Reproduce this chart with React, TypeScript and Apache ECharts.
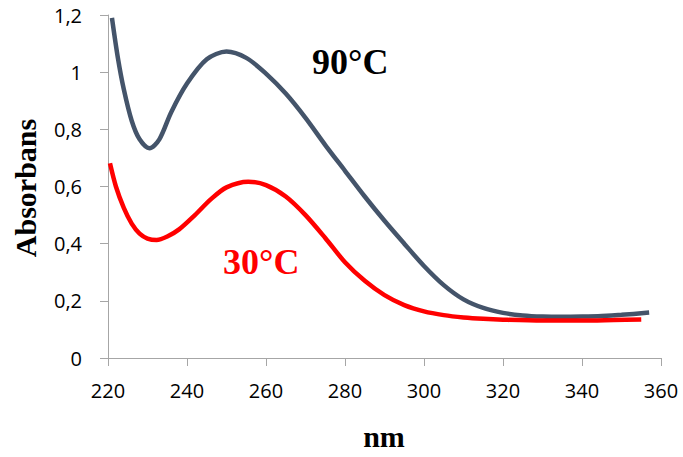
import React, { useEffect, useRef } from "react";
import * as echarts from "echarts";

const nm90 = [221, 222.5, 224, 226, 228, 230.5, 233, 236, 240, 245, 250, 255, 260, 265, 270, 275, 280, 285, 290, 295, 300, 305, 310, 315, 320, 325, 330, 335, 340, 345, 350, 357];
const abs90 = [1.19, 1.05, 0.94, 0.83, 0.765, 0.734, 0.765, 0.86, 0.96, 1.045, 1.072, 1.05, 0.995, 0.925, 0.84, 0.745, 0.655, 0.565, 0.48, 0.4, 0.322, 0.255, 0.205, 0.175, 0.158, 0.149, 0.145, 0.144, 0.145, 0.147, 0.151, 0.159];

const nm30 = [220.5, 222, 224, 226, 228, 230, 232.3, 235, 238, 242, 246, 250, 255.5, 260, 265, 270, 275, 280, 285, 290, 295, 300, 305, 310, 315, 320, 330, 340, 348, 355];
const abs30 = [0.681, 0.6, 0.525, 0.47, 0.435, 0.418, 0.413, 0.425, 0.45, 0.5, 0.555, 0.597, 0.617, 0.605, 0.565, 0.5, 0.42, 0.335, 0.27, 0.22, 0.185, 0.163, 0.15, 0.142, 0.137, 0.134, 0.131, 0.131, 0.133, 0.135];

const xTicks = { min: 220, max: 360, step: 20 };
const yTicks = { min: 0, max: 1.2, step: 0.2 };
const seriesNames = ["90°C", "30°C"];
const xTitle = "nm";
const yTitle = "Absorbans";

export default function App() {
  const ref = useRef<HTMLDivElement>(null);
  useEffect(() => {
    if (!ref.current) return;
    const chart = echarts.init(ref.current, null, { renderer: "svg" });
    const axisColor = "#a6a6a6";
    chart.setOption({
      animation: false,
      backgroundColor: "#ffffff",
      grid: { left: 108, right: 22, top: 15, bottom: 99 },
      xAxis: {
        type: "value",
        min: xTicks.min,
        max: xTicks.max,
        interval: xTicks.step,
        axisLine: { show: true, onZero: false, lineStyle: { color: axisColor, width: 1 } },
        axisTick: { show: true, length: 8, lineStyle: { color: axisColor } },
        splitLine: { show: false },
        axisLabel: { color: "#000", fontSize: 20, fontFamily: "Open Sans", margin: 22 },
      },
      yAxis: {
        type: "value",
        min: yTicks.min,
        max: yTicks.max,
        interval: yTicks.step,
        axisLine: { show: true, lineStyle: { color: axisColor, width: 1 } },
        axisTick: { show: true, length: 8, lineStyle: { color: axisColor } },
        splitLine: { show: false },
        axisLabel: {
          color: "#000",
          fontSize: 20,
          fontFamily: "Open Sans",
          margin: 26,
          formatter: (v: number) => String(Math.round(v * 10) / 10).replace(".", ","),
        },
      },
      series: [
        {
          name: seriesNames[0],
          type: "line",
          smooth: 0.3,
          showSymbol: false,
          data: nm90.map((x, i) => [x, abs90[i]]),
          lineStyle: { color: "#44546A", width: 4.5 },
          itemStyle: { color: "#44546A" },
        },
        {
          name: seriesNames[1],
          type: "line",
          smooth: 0.3,
          showSymbol: false,
          data: nm30.map((x, i) => [x, abs30[i]]),
          lineStyle: { color: "#FF0000", width: 4.5 },
          itemStyle: { color: "#FF0000" },
        },
      ],
      graphic: [
        {
          type: "text",
          left: 312,
          top: 44,
          style: { text: seriesNames[0], font: "bold 36px 'Liberation Serif'", fill: "#000" },
        },
        {
          type: "text",
          left: 223,
          top: 244,
          style: { text: seriesNames[1], font: "bold 36px 'Liberation Serif'", fill: "#FF0000" },
        },
        {
          type: "text",
          x: 384,
          y: 436,
          style: { text: xTitle, font: "bold 30px 'Liberation Serif'", fill: "#000", align: "center", verticalAlign: "middle" },
        },
        {
          type: "text",
          x: 25,
          y: 188,
          rotation: Math.PI / 2,
          style: { text: yTitle, font: "bold 30px 'Liberation Serif'", fill: "#000", align: "center", verticalAlign: "middle" },
        },
      ],
    });
    return () => chart.dispose();
  }, []);
  return <div ref={ref} style={{ width: 683, height: 457, position: "absolute", left: 0, top: 0 }} />;
}
